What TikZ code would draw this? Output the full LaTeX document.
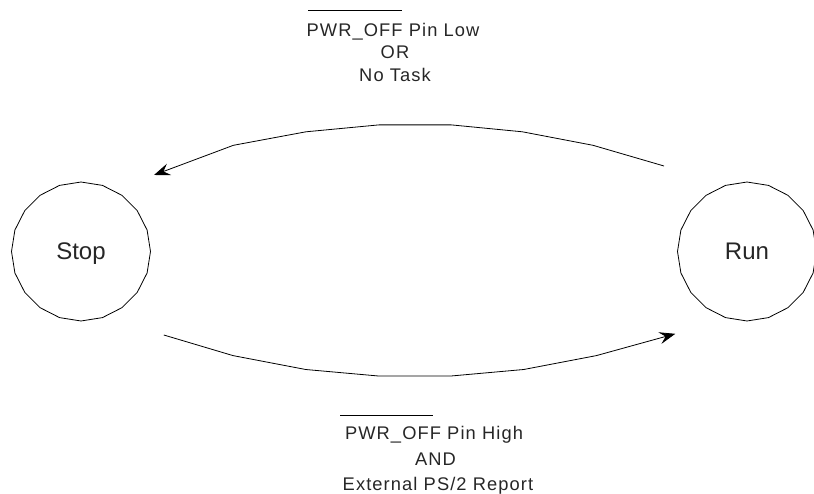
\documentclass[tikz,border=0pt]{standalone}
\usepackage{fontspec}
\setmainfont{Liberation Sans}
\newfontfamily\lblfont[LetterSpace=6]{Liberation Sans}
\usetikzlibrary{shapes.geometric,arrows.meta}
\begin{document}
\begin{tikzpicture}[x=1pt,y=-1pt,
  state/.style={draw, line width=0.8pt, regular polygon, regular polygon sides=20,
    shape border rotate=9, minimum size=139pt, inner sep=0pt,
    font=\fontsize{24}{28}\selectfont, text depth=0pt, text=black!85},
  trans/.style={draw, line width=0.8pt, line join=round, -{Stealth[length=16pt,width=12pt,inset=6pt]}},
  lbl/.style={anchor=base, inner sep=0pt, text=black!85, font=\lblfont\fontsize{18.3}{22}\selectfont},
  bar/.style={line width=0.8pt}]
\useasboundingbox (0,0) rectangle (814,494);

\node[state] (stop) at (81,251.5) {Stop};
\node[state] (run) at (747,251.5) {Run};

\path (run.center) ++(-83,-85.5) coordinate (tstart);
\path (stop.center) ++(73,-76.5) coordinate (tend);
\path (stop.center) ++(82.8,83.5) coordinate (bstart);
\path (run.center) ++(-71.7,82.3) coordinate (bend);

\draw[trans] (tstart) -- (593,145.3) -- (522.4,131.8) -- (451.4,124.9) -- (378.8,124.9)
  -- (306,131.8) -- (233.4,145.3) -- (tend);
\draw[trans] (bstart) -- (233,355.6) -- (305.7,369.5) -- (378.4,376) -- (451,376)
  -- (523.7,369.5) -- (596.4,355.6) -- (bend);

\node[lbl] (t1) at (393,36.5) {PWR\_OFF Pin Low};
\node[lbl] (t2) at (395,59) {OR};
\node[lbl] (t3) at (395,81.5) {No Task};
\draw[bar] (308,10) -- (402,10);

\node[lbl] (b1) at (434,439.5) {PWR\_OFF Pin High};
\node[lbl] (b2) at (435.5,465) {AND};
\node[lbl] (b3) at (438,490.5) {External PS/2 Report};
\draw[bar] (340,415) -- (433,415);
\end{tikzpicture}
\end{document}
